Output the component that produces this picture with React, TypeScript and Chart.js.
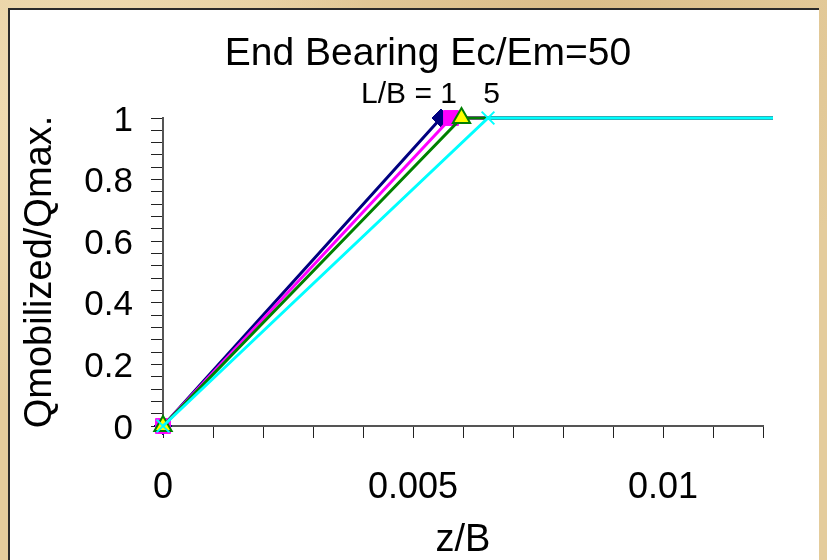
import React, { useEffect, useRef } from 'react';
import { Chart, registerables } from 'chart.js';

Chart.register(...registerables);

const FONT = "'Liberation Sans', Arial, Helvetica, sans-serif";

const titleText = 'End Bearing Ec/Em=50';
const subtitleLeft = 'L/B = 1';
const subtitleRight = '5';
const xAxisTitle = 'z/B';
const yAxisTitle = 'Qmobilized/Qmax.';

const seriesNames = ['L/B = 1', 'L/B = 2', 'L/B = 3', 'L/B = 5'];

const zB1 = [0, 0.00556, 0.0122];
const q1 = [0, 1, 1];
const zB2 = [0, 0.00576, 0.0122];
const q2 = [0, 1, 1];
const zB3 = [0, 0.00597, 0.0122];
const q3 = [0, 1, 1];
const zB5 = [0, 0.0065, 0.0122];
const q5 = [0, 1, 1];

const xTickValues = [0, 0.005, 0.01];
const xTickLabels = ['0', '0.005', '0.01'];
const yTickValues = [0, 0.2, 0.4, 0.6, 0.8, 1];
const yTickLabels = ['0', '0.2', '0.4', '0.6', '0.8', '1'];

const toPoints = (xs: number[], ys: number[]) => xs.map((x, i) => ({ x, y: ys[i] }));

const headerPlugin = {
  id: 'headerText',
  afterDraw(chart: any) {
    const ctx = chart.ctx;
    ctx.save();
    ctx.fillStyle = '#000';
    ctx.textBaseline = 'alphabetic';
    ctx.font = `39px ${FONT}`;
    ctx.textAlign = 'center';
    ctx.fillText(titleText, 420, 57);
    ctx.font = `30px ${FONT}`;
    ctx.textAlign = 'right';
    ctx.fillText(subtitleLeft, 449, 95);
    ctx.textAlign = 'center';
    ctx.fillText(subtitleRight, 483.5, 95);
    ctx.restore();
  },
};

function labelFor(v: number, values: number[], labels: string[]) {
  for (let i = 0; i < values.length; i++) {
    if (Math.abs(v - values[i]) < 1e-9) return labels[i];
  }
  return '';
}

export default function App() {
  const ref = useRef<HTMLCanvasElement | null>(null);

  useEffect(() => {
    document.documentElement.style.overflow = 'hidden';
    document.body.style.overflow = 'hidden';
    document.body.style.background =
      'radial-gradient(circle at 10% 20%, rgba(250,235,200,0.6), transparent 35%), radial-gradient(circle at 70% 5%, rgba(200,160,100,0.35), transparent 40%), #e4cc9c';

    const canvas = ref.current;
    if (!canvas) return;
    const markerCommon = { borderWidth: 3, clip: false as any, tension: 0 };
    const chart = new Chart(canvas, {
      type: 'line',
      data: {
        datasets: [
          {
            ...markerCommon,
            label: seriesNames[0],
            data: toPoints(zB1, q1),
            borderColor: '#000080',
            backgroundColor: '#000080',
            pointStyle: 'rectRot',
            pointRadius: [9, 9, 0],
            pointBackgroundColor: '#000080',
            pointBorderColor: '#000080',
            pointBorderWidth: 1,
            order: 4,
          },
          {
            ...markerCommon,
            label: seriesNames[1],
            data: toPoints(zB2, q2),
            borderColor: '#ff00ff',
            backgroundColor: '#ff00ff',
            pointStyle: 'rect',
            pointRadius: [10.5, 10.5, 0],
            pointBackgroundColor: '#ff00ff',
            pointBorderColor: '#ff00ff',
            pointBorderWidth: 1,
            order: 3,
          },
          {
            ...markerCommon,
            label: seriesNames[2],
            data: toPoints(zB3, q3),
            borderColor: '#008000',
            backgroundColor: '#ffff00',
            pointStyle: 'triangle',
            pointRadius: [10, 10, 0],
            pointBackgroundColor: '#ffff00',
            pointBorderColor: '#008000',
            pointBorderWidth: 2,
            order: 2,
          },
          {
            ...markerCommon,
            label: seriesNames[3],
            data: toPoints(zB5, q5),
            borderColor: '#00ffff',
            backgroundColor: '#00ffff',
            pointStyle: 'crossRot',
            pointRadius: [9, 9, 0],
            pointBackgroundColor: '#00ffff',
            pointBorderColor: '#00ffff',
            pointBorderWidth: 2,
            order: 1,
          },
        ],
      },
      options: {
        responsive: false,
        animation: false,
        devicePixelRatio: 1,
        layout: { padding: { left: 0, right: 64, top: 110, bottom: 0 } },
        plugins: {
          legend: { display: false },
          tooltip: { enabled: false },
          title: { display: false },
        },
        scales: {
          x: {
            type: 'linear',
            min: 0,
            max: 0.012,
            afterFit(scale: any) {
              scale.height = 134;
            },
            border: { display: true, color: '#555', width: 2 },
            grid: { drawOnChartArea: false, drawTicks: true, tickLength: 12, tickColor: '#222', tickWidth: 1 },
            ticks: {
              stepSize: 0.001,
              autoSkip: false,
              maxRotation: 0,
              minRotation: 0,
              padding: 28,
              color: '#000',
              font: { family: FONT, size: 36 },
              callback: (v: any) => labelFor(Number(v), xTickValues, xTickLabels),
            },
            title: {
              display: true,
              text: xAxisTitle,
              color: '#000',
              font: { family: FONT, size: 38, lineHeight: 1 },
              padding: { top: 0, bottom: 0 },
            },
          },
          y: {
            type: 'linear',
            min: 0,
            max: 1,
            afterFit(scale: any) {
              scale.width = 155;
            },
            border: { display: true, color: '#555', width: 2 },
            grid: { drawOnChartArea: false, drawTicks: true, tickLength: 12, tickColor: '#222', tickWidth: 1 },
            ticks: {
              stepSize: 0.04,
              autoSkip: false,
              padding: 18,
              labelOffset: 3,
              color: '#000',
              font: { family: FONT, size: 35 },
              callback: (v: any) => labelFor(Number(v), yTickValues, yTickLabels),
            },
            title: {
              display: true,
              text: yAxisTitle,
              color: '#000',
              font: { family: FONT, size: 38 },
              padding: { top: 10, bottom: 0 },
            },
          },
        },
      },
      plugins: [headerPlugin],
    } as any);
    return () => chart.destroy();
  }, []);

  return (
    <div
      style={{
        position: 'relative',
        width: 819,
        height: 552,
        background: '#ffffff',
        boxShadow: 'inset 2px 2px 0 #2a2a2a',
      }}
    >
      <canvas
        ref={ref}
        width={819}
        height={552}
        style={{ display: 'block', position: 'absolute', left: 0, top: 0 }}
      />
    </div>
  );
}
